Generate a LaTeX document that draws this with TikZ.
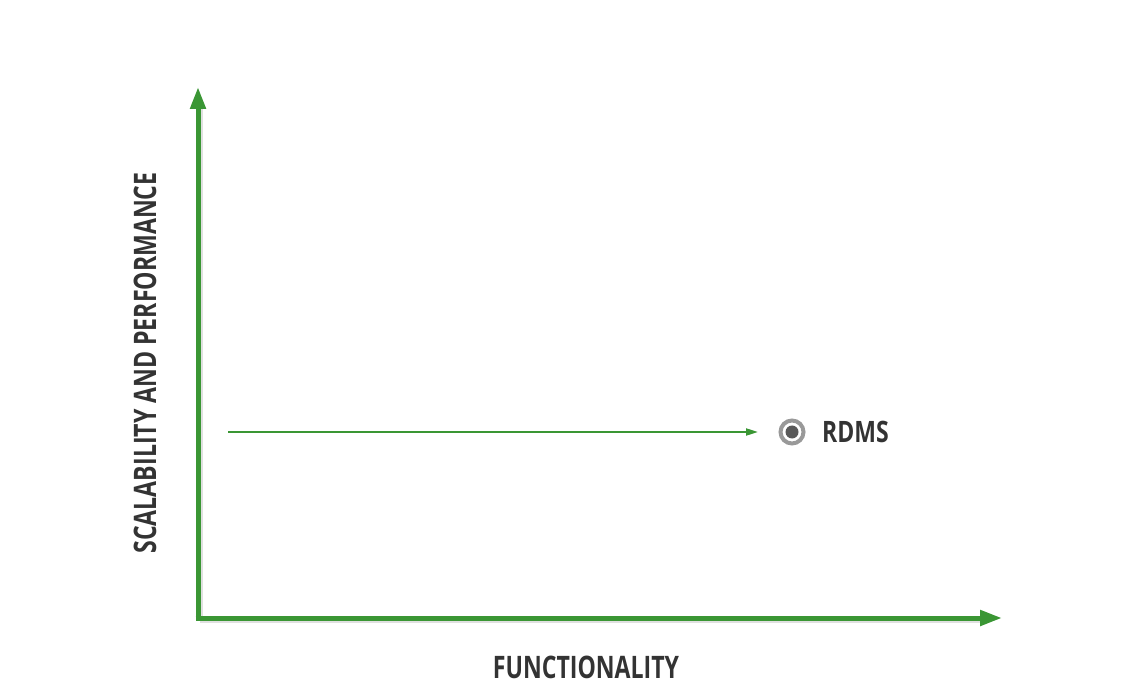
\documentclass[tikz,border=0pt]{standalone}
\usepackage{fontspec}
\setmainfont{Open Sans}
\newfontfamily\condfont[FakeStretch=0.745]{Open Sans Bold}
\newfontfamily\rdmsfont[FakeStretch=0.78]{Open Sans Bold}
\usetikzlibrary{arrows.meta}
\definecolor{axisgreen}{RGB}{58,150,52}
\definecolor{labelgray}{RGB}{51,51,51}
\tikzset{
  axis/.style={line width=5pt, draw=axisgreen, -{Triangle[length=22pt,width=15pt]}},
  axisshadow/.style={line width=5pt, draw=black!12},
  flow/.style={line width=2pt, draw=axisgreen, -{Triangle[length=12pt,width=7pt]}},
  lbl/.style={text=labelgray, font=\condfont\fontsize{31}{31}\selectfont, inner sep=0pt},
  rdmslbl/.style={text=labelgray, font=\rdmsfont\fontsize{29.5}{29.5}\selectfont, inner sep=0pt, anchor=west},
}
\begin{document}
\begin{tikzpicture}[x=1pt,y=1pt]
\useasboundingbox (0,0) rectangle (1139,691);
% coordinates (y = 691 - image y)
\coordinate (O) at (198,73);
\coordinate (Ytop) at (198,604);
\coordinate (Xend) at (1002,73);
\coordinate (Fstart) at (228,259);
\coordinate (Fend) at (758,259);
% shadows
\draw[axisshadow] (200,71) -- (200,584);
\draw[axisshadow] (200,71) -- (982,71);
% axes
\draw[axis] (198,75.5) -- (Ytop);
\draw[axis] (195.5,73) -- (Xend);
% flow arrow
\draw[flow] (Fstart) -- (Fend);
% RDMS point
\node[circle, minimum size=23pt, inner sep=0pt, draw=black!40, line width=4pt] (dot) at (792,259) {};
\fill[black!65] (dot.center) circle (6.5pt);
\node[rdmslbl] (rdms) at (822,259) {RDMS};
% labels
\node[lbl] (xl) at (586,24) {FUNCTIONALITY};
\node[lbl, rotate=90] (yl) at (145,328) {SCALABILITY AND PERFORMANCE};
\end{tikzpicture}
\end{document}
